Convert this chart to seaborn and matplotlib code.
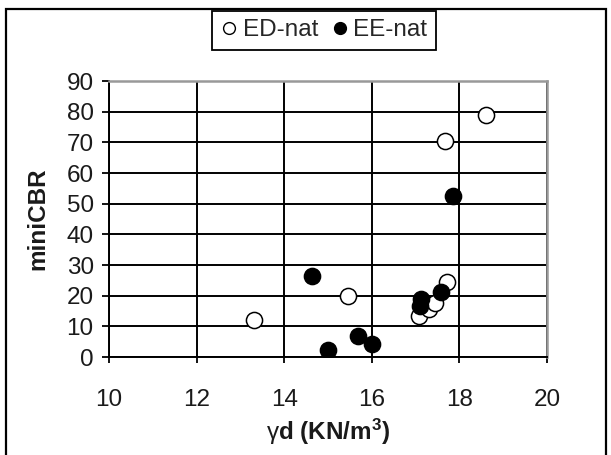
import numpy as np
import pandas as pd
import seaborn as sns
import matplotlib.pyplot as plt
from matplotlib.patches import Rectangle
from matplotlib.lines import Line2D

# Dry unit weight (kN/m3) and miniCBR for the two soil groups
ed_gamma = [13.3, 15.45, 17.08, 17.3, 17.45, 17.72, 17.68, 18.6]
ed_cbr = [12.2, 20.0, 13.4, 15.5, 17.5, 24.5, 70.5, 79.0]
ee_gamma = [14.63, 15.0, 15.68, 16.0, 17.1, 17.13, 17.58, 17.85]
ee_cbr = [26.5, 2.4, 7.0, 4.4, 16.7, 19.0, 21.3, 52.5]
series = ["ED-nat", "EE-nat"]
x_ticks = [10, 12, 14, 16, 18, 20]
y_ticks = [0, 10, 20, 30, 40, 50, 60, 70, 80, 90]

df = pd.DataFrame({
    "gamma": ed_gamma + ee_gamma,
    "cbr": ed_cbr + ee_cbr,
    "group": [series[0]] * len(ed_gamma) + [series[1]] * len(ee_gamma),
})

sns.set_style("white")
plt.rcParams["font.family"] = ["Liberation Sans", "DejaVu Sans"]
plt.rcParams["mathtext.fontset"] = "custom"
plt.rcParams["mathtext.rm"] = "Liberation Sans"
plt.rcParams["mathtext.bf"] = "Liberation Sans:bold"
plt.rcParams["mathtext.it"] = "Liberation Sans:italic"

FS = 17.5

fig = plt.figure(figsize=(6.11, 4.55), dpi=100)
ax = fig.add_axes([109 / 611, 1 - 357 / 455, 438 / 611, 276 / 455])

face = {"ED-nat": "white", "EE-nat": "black"}
for name in series:
    sub = df[df["group"] == name]
    sns.scatterplot(data=sub, x="gamma", y="cbr", ax=ax, s=135,
                    color=face[name], edgecolor="black", linewidth=1.1,
                    legend=False, zorder=3)

ax.set_xlim(10, 20)
ax.set_ylim(0, 90)
ax.set_xticks(x_ticks)
ax.set_yticks(y_ticks)
ax.grid(True, color="black", linewidth=1.4)
ax.set_axisbelow(True)

for side in ["left", "bottom"]:
    ax.spines[side].set_color("black")
    ax.spines[side].set_linewidth(1.4)
for side in ["top", "right"]:
    ax.spines[side].set_color("#999999")
    ax.spines[side].set_linewidth(1.8)
    ax.spines[side].set_visible(True)

ax.tick_params(axis="y", direction="out", length=5, width=1.3, pad=6,
               labelsize=FS, colors="black", labelcolor="#1a1a1a", left=True)
ax.tick_params(axis="x", direction="out", length=4, width=1.3, pad=19,
               labelsize=FS, colors="black", labelcolor="#1a1a1a", bottom=True)

ax.set_ylabel("miniCBR", fontsize=FS, fontweight="bold", color="#1a1a1a")
ax.yaxis.label.set_va("center")
ax.yaxis.set_label_coords((38 - 109) / 438, 0.5)
ax.set_xlabel(r"$\mathrm{\gamma}\mathbf{d\ (KN/m}^{\mathbf{3}}\mathbf{)}$",
              fontsize=FS, color="#1a1a1a")
ax.xaxis.label.set_va("center")
ax.xaxis.set_label_coords(0.5, (357 - 432) / 276)

handles = [
    Line2D([], [], linestyle="none", marker="o", markersize=8.5,
           markerfacecolor=face[n], markeredgecolor="black", markeredgewidth=1.0)
    for n in series
]
leg = fig.legend(handles, series, loc="center", bbox_to_anchor=(0.5303, 0.934),
                 ncol=2, fontsize=FS, frameon=True, fancybox=False,
                 edgecolor="black", framealpha=1, borderpad=0.35,
                 handlelength=0.7, handletextpad=0.2, columnspacing=0.55,
                 borderaxespad=0)
leg.get_frame().set_linewidth(1.3)

# Outer frame around the whole chart
fig.patches.append(Rectangle((5.5 / 611, -0.05), (606 - 5.5) / 611, 1.05 - 9.5 / 455,
                             transform=fig.transFigure, fill=False,
                             edgecolor="black", linewidth=1.6))

fig.savefig("out.png", dpi=100)
